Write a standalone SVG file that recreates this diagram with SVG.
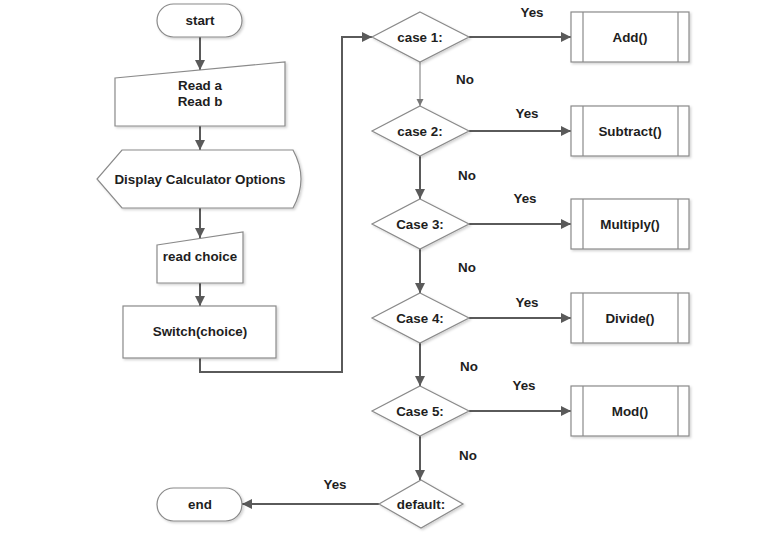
<svg xmlns="http://www.w3.org/2000/svg" width="764" height="536" viewBox="0 0 764 536">
<style>
.s{fill:#fff;stroke:#8a8a8a;stroke-width:1.2;filter:url(#sh)}
.t{font-family:"Liberation Sans",Arial,sans-serif;font-weight:bold;font-size:13.4px;fill:#1e1e1e;text-anchor:middle}
.c{fill:none;stroke:#5a5a5a;stroke-width:2;marker-end:url(#ah)}
.c1{fill:none;stroke:#8a8a8a;stroke-width:1.2;marker-end:url(#ahs)}
.in{stroke:#8a8a8a;stroke-width:1.2}
</style>
<defs>
<filter id="sh" x="-10%" y="-10%" width="130%" height="140%">
<feDropShadow dx="1.5" dy="1.5" stdDeviation="1" flood-color="#000" flood-opacity="0.18"/>
</filter>
<marker id="ah" viewBox="0 0 10 10" refX="10" refY="5" markerWidth="5.5" markerHeight="5" orient="auto" markerUnits="strokeWidth">
<path d="M0,0 L10,5 L0,10 z" fill="#5a5a5a"/>
</marker>
<marker id="ahs" viewBox="0 0 10 10" refX="10" refY="5" markerWidth="6" markerHeight="6" orient="auto" markerUnits="strokeWidth">
<path d="M0,0 L10,5 L0,10 z" fill="#777"/>
</marker>
</defs>
<rect width="764" height="536" fill="#fff"/>
<g id="connectors">
<path class="c" d="M200,37 V70"/>
<path class="c" d="M200,126 V150"/>
<path class="c" d="M200,208 V238"/>
<path class="c" d="M200,283 V306"/>
<path class="c" d="M200,358 V372 H342 V37 H372"/>
<path class="c1" d="M420,62 V106"/>
<path class="c" d="M420,156 V199"/>
<path class="c" d="M420,249 V293"/>
<path class="c" d="M420,343 V386"/>
<path class="c" d="M420,436 V480"/>
<path class="c" d="M379,504 H242"/>
<path class="c" d="M469,37 H571"/>
<path class="c" d="M469,131 H571"/>
<path class="c" d="M469,224 H571"/>
<path class="c" d="M469,318 H571"/>
<path class="c" d="M469,411 H571"/>
</g>
<g id="labels">
<text class="t" x="532" y="17">Yes</text>
<text class="t" x="465" y="84">No</text>
<text class="t" x="527" y="118">Yes</text>
<text class="t" x="467" y="180">No</text>
<text class="t" x="525" y="203">Yes</text>
<text class="t" x="467" y="272">No</text>
<text class="t" x="527" y="307">Yes</text>
<text class="t" x="469" y="371">No</text>
<text class="t" x="524" y="390">Yes</text>
<text class="t" x="468" y="460">No</text>
<text class="t" x="335" y="489">Yes</text>
</g>
<g id="start"><rect class="s" x="157" y="4" width="85" height="33" rx="16.5"/><text class="t" x="200" y="25">start</text></g>
<g id="read-ab"><path class="s" d="M115,78 L285,62 L285,126 L115,126 Z"/><text class="t" x="200" y="90">Read a</text><text class="t" x="200" y="106">Read b</text></g>
<g id="display"><path class="s" d="M122,150 L293,150 Q309,179 293,208 L122,208 L97,179 Z"/><text class="t" x="200" y="183.5">Display Calculator Options</text></g>
<g id="read-choice"><path class="s" d="M157,245 L243,232 L243,283 L157,283 Z"/><text class="t" x="200" y="261">read choice</text></g>
<g id="switch"><rect class="s" x="123" y="306" width="153" height="52"/><text class="t" x="200" y="336">Switch(choice)</text></g>
<g id="case1"><path class="s" d="M420,12 L469,37 L420,62 L372,37 Z"/><text class="t" x="420" y="41.5">case 1:</text></g>
<g id="case2"><path class="s" d="M420,106 L469,131 L420,156 L372,131 Z"/><text class="t" x="420" y="135.5">case 2:</text></g>
<g id="case3"><path class="s" d="M420,199 L469,224 L420,249 L372,224 Z"/><text class="t" x="420" y="228.5">Case 3:</text></g>
<g id="case4"><path class="s" d="M420,293 L469,318 L420,343 L372,318 Z"/><text class="t" x="420" y="322.5">Case 4:</text></g>
<g id="case5"><path class="s" d="M420,386 L469,411 L420,436 L372,411 Z"/><text class="t" x="420" y="415.5">Case 5:</text></g>
<g id="default"><path class="s" d="M421,480 L463,504 L421,528 L379,504 Z"/><text class="t" x="421" y="508.5">default:</text></g>
<g id="end"><rect class="s" x="157" y="488" width="85" height="33" rx="16.5"/><text class="t" x="200" y="509">end</text></g>
<g id="add"><rect class="s" x="571" y="12" width="118" height="50"/><line class="in" x1="583" y1="12" x2="583" y2="62"/><line class="in" x1="678" y1="12" x2="678" y2="62"/><text class="t" x="630" y="41.5">Add()</text></g>
<g id="subtract"><rect class="s" x="571" y="106" width="118" height="50"/><line class="in" x1="583" y1="106" x2="583" y2="156"/><line class="in" x1="678" y1="106" x2="678" y2="156"/><text class="t" x="630" y="135.5">Subtract()</text></g>
<g id="multiply"><rect class="s" x="571" y="199" width="118" height="50"/><line class="in" x1="583" y1="199" x2="583" y2="249"/><line class="in" x1="678" y1="199" x2="678" y2="249"/><text class="t" x="630" y="228.5">Multiply()</text></g>
<g id="divide"><rect class="s" x="571" y="293" width="118" height="50"/><line class="in" x1="583" y1="293" x2="583" y2="343"/><line class="in" x1="678" y1="293" x2="678" y2="343"/><text class="t" x="630" y="322.5">Divide()</text></g>
<g id="mod"><rect class="s" x="571" y="386" width="118" height="50"/><line class="in" x1="583" y1="386" x2="583" y2="436"/><line class="in" x1="678" y1="386" x2="678" y2="436"/><text class="t" x="630" y="415.5">Mod()</text></g>
</svg>
